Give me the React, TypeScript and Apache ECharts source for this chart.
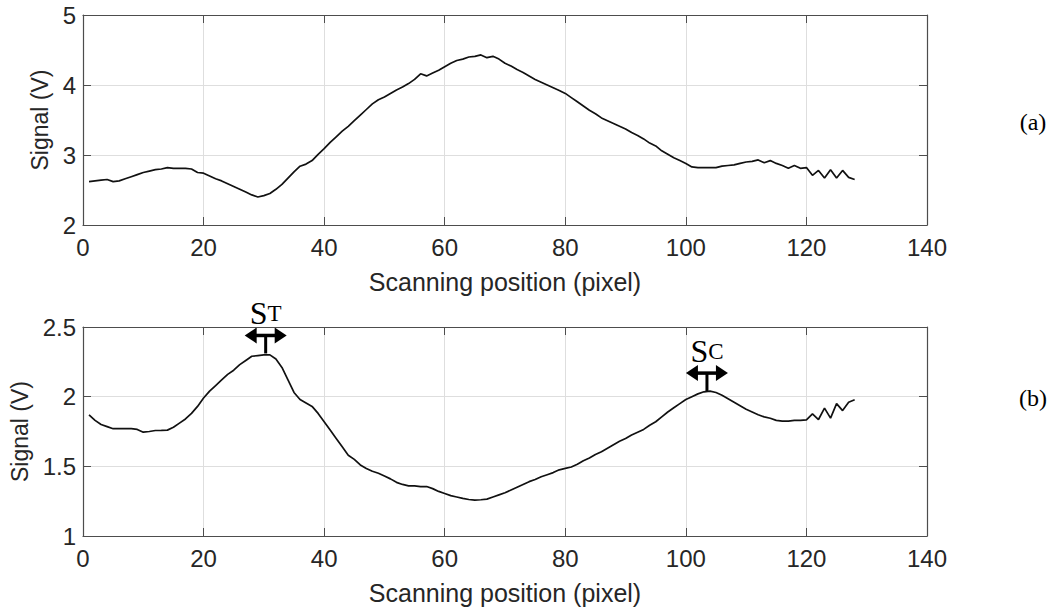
import React, { useEffect, useRef } from "react";
import * as echarts from "echarts";

// Scanning positions (pixel) 1..128
const scanPositions: number[] = Array.from({ length: 128 }, (_, i) => i + 1);

// (a) Signal (V)
const signalA: number[] = [
  2.62, 2.63, 2.64, 2.65, 2.62, 2.63, 2.66, 2.69, 2.72, 2.75,
  2.77, 2.79, 2.80, 2.82, 2.81, 2.81, 2.81, 2.80, 2.75, 2.74,
  2.70, 2.66, 2.63, 2.59, 2.55, 2.51, 2.47, 2.43, 2.40, 2.42,
  2.45, 2.51, 2.58, 2.67, 2.76, 2.84, 2.87, 2.92, 3.01, 3.09,
  3.18, 3.26, 3.34, 3.41, 3.49, 3.57, 3.65, 3.73, 3.79, 3.83,
  3.88, 3.93, 3.97, 4.02, 4.08, 4.16, 4.13, 4.17, 4.21, 4.26,
  4.31, 4.35, 4.37, 4.40, 4.41, 4.43, 4.39, 4.41, 4.37, 4.31,
  4.27, 4.22, 4.18, 4.13, 4.08, 4.04, 4.00, 3.96, 3.92, 3.88,
  3.82, 3.76, 3.70, 3.64, 3.59, 3.53, 3.49, 3.45, 3.41, 3.37,
  3.32, 3.28, 3.23, 3.17, 3.13, 3.06, 3.01, 2.96, 2.92, 2.88,
  2.83, 2.82, 2.82, 2.82, 2.82, 2.84, 2.85, 2.86, 2.88, 2.90,
  2.91, 2.93, 2.89, 2.92, 2.88, 2.85, 2.81, 2.85, 2.81, 2.82,
  2.71, 2.78, 2.67, 2.79, 2.67, 2.78, 2.68, 2.65,
];

// (b) Signal (V)
const signalB: number[] = [
  1.87, 1.83, 1.80, 1.785, 1.77, 1.77, 1.77, 1.77, 1.765, 1.745,
  1.75, 1.757, 1.758, 1.76, 1.78, 1.81, 1.84, 1.88, 1.93, 1.99,
  2.04, 2.08, 2.12, 2.16, 2.19, 2.23, 2.26, 2.29, 2.295, 2.30,
  2.30, 2.27, 2.21, 2.12, 2.03, 1.98, 1.955, 1.93, 1.88, 1.82,
  1.76, 1.70, 1.64, 1.58, 1.55, 1.51, 1.485, 1.465, 1.45, 1.43,
  1.41, 1.385, 1.37, 1.36, 1.36, 1.355, 1.355, 1.34, 1.32, 1.305,
  1.29, 1.28, 1.27, 1.262, 1.257, 1.26, 1.265, 1.28, 1.295, 1.31,
  1.33, 1.35, 1.37, 1.39, 1.405, 1.425, 1.44, 1.455, 1.475, 1.485,
  1.495, 1.515, 1.54, 1.56, 1.585, 1.605, 1.63, 1.655, 1.68, 1.70,
  1.725, 1.745, 1.765, 1.795, 1.82, 1.855, 1.89, 1.92, 1.95, 1.98,
  2.00, 2.02, 2.035, 2.04, 2.03, 2.01, 1.985, 1.96, 1.935, 1.91,
  1.89, 1.87, 1.855, 1.845, 1.83, 1.825, 1.825, 1.83, 1.83, 1.834,
  1.877, 1.836, 1.918, 1.846, 1.95, 1.90, 1.96, 1.978,
];

const xTicks = { min: 0, max: 140, interval: 20 };
const yTicksA = { min: 2, max: 5, interval: 1 };
const yTicksB = { min: 1, max: 2.5, interval: 0.5 };

// Peak annotations on (b): main letter + small-cap subscript
const peakMarks = [
  { main: "S", sub: "T", x: 30.3, y: 2.31 },
  { main: "S", sub: "C", x: 103.5, y: 2.04 },
];

const panelLabels = ["(a)", "(b)"];
const xTitle = "Scanning position (pixel)";
const yTitle = "Signal (V)";

const SANS = "'Liberation Sans', Arial, Helvetica, sans-serif";
const SERIF = "'Liberation Serif', 'Times New Roman', serif";
const AXIS_COLOR = "#4d4d4d";
const TEXT_COLOR = "#262626";
const GRID_COLOR = "#dedede";

export default function App() {
  const ref = useRef<HTMLDivElement>(null);

  useEffect(() => {
    if (!ref.current) return;
    const chart = echarts.init(ref.current, undefined, { renderer: "svg" });

    const grids = [
      { left: 83, top: 15, width: 844, height: 210 },
      { left: 83, top: 327, width: 844, height: 209 },
    ];

    const tick = {
      show: true,
      inside: true,
      length: 8,
      lineStyle: { color: AXIS_COLOR, width: 1 },
    };
    const line = { show: true, onZero: false, lineStyle: { color: AXIS_COLOR, width: 1.2 } };

    const xAxes: any[] = [];
    const yAxes: any[] = [];
    [0, 1].forEach((g) => {
      xAxes.push({
        type: "value",
        gridIndex: g,
        ...xTicks,
        position: "bottom",
        axisLine: line,
        axisTick: tick,
        splitLine: { show: true, lineStyle: { color: GRID_COLOR, width: 1 } },
        axisLabel: {
          show: true,
          fontSize: 24,
          fontFamily: SANS,
          color: TEXT_COLOR,
          margin: 10,
        },
        name: xTitle,
        nameLocation: "middle",
        nameGap: 44,
        nameTextStyle: { fontSize: 25, fontFamily: SANS, color: TEXT_COLOR },
      });
      xAxes.push({
        type: "value",
        gridIndex: g,
        ...xTicks,
        position: "top",
        axisLine: line,
        axisTick: tick,
        splitLine: { show: false },
        axisLabel: { show: false },
      });
      const yt = g === 0 ? yTicksA : yTicksB;
      yAxes.push({
        type: "value",
        gridIndex: g,
        ...yt,
        position: "left",
        axisLine: line,
        axisTick: tick,
        splitLine: { show: true, lineStyle: { color: GRID_COLOR, width: 1 } },
        axisLabel: {
          show: true,
          fontSize: 24,
          fontFamily: SANS,
          color: TEXT_COLOR,
          margin: 7,
        },
        name: yTitle,
        nameLocation: "middle",
        nameGap: g === 0 ? 29 : 49,
        nameTextStyle: { fontSize: 23, fontFamily: SANS, color: TEXT_COLOR },
      });
      yAxes.push({
        type: "value",
        gridIndex: g,
        ...yt,
        position: "right",
        axisLine: line,
        axisTick: tick,
        splitLine: { show: false },
        axisLabel: { show: false },
      });
    });

    const toPairs = (vals: number[]) => vals.map((v, i) => [scanPositions[i], v]);

    chart.setOption({
      animation: false,
      backgroundColor: "#ffffff",
      grid: grids,
      xAxis: xAxes,
      yAxis: yAxes,
      series: [
        {
          type: "line",
          xAxisIndex: 0,
          yAxisIndex: 0,
          data: toPairs(signalA),
          showSymbol: false,
          lineStyle: { color: "#111111", width: 1.7 },
        },
        {
          type: "line",
          xAxisIndex: 2,
          yAxisIndex: 2,
          data: toPairs(signalB),
          showSymbol: false,
          lineStyle: { color: "#111111", width: 1.7 },
        },
      ],
    });

    // Build annotations from data positions
    const elements: any[] = [];
    peakMarks.forEach((m) => {
      const p = chart.convertToPixel({ seriesIndex: 1 }, [m.x, m.y]) as number[];
      if (!p) return;
      const [px, py] = p;
      const ay = py - 18;
      const half = 21;
      const head = 12;
      const hh = 8;
      elements.push({
        type: "line",
        shape: { x1: px, y1: py, x2: px, y2: ay },
        style: { stroke: "#000", lineWidth: 3 },
      });
      elements.push({
        type: "line",
        shape: { x1: px - half + head - 1, y1: ay, x2: px + half - head + 1, y2: ay },
        style: { stroke: "#000", lineWidth: 3.5 },
      });
      elements.push({
        type: "polygon",
        shape: {
          points: [
            [px - half, ay],
            [px - half + head, ay - hh],
            [px - half + head, ay + hh],
          ],
        },
        style: { fill: "#000" },
      });
      elements.push({
        type: "polygon",
        shape: {
          points: [
            [px + half, ay],
            [px + half - head, ay - hh],
            [px + half - head, ay + hh],
          ],
        },
        style: { fill: "#000" },
      });
      elements.push({
        type: "text",
        x: px,
        y: ay - 6,
        style: {
          text: `{s|${m.main}}{t|${m.sub}}`,
          align: "center",
          verticalAlign: "bottom",
          rich: {
            s: { fontSize: 32, fontFamily: SERIF, fill: "#000" },
            t: { fontSize: 23, fontFamily: SERIF, fill: "#000" },
          },
        },
      });
    });

    panelLabels.forEach((lbl, g) => {
      const gr = grids[g];
      elements.push({
        type: "text",
        x: 1033,
        y: gr.top + gr.height / 2 + (g === 0 ? 2 : -34),
        style: {
          text: lbl,
          align: "center",
          verticalAlign: "middle",
          fontSize: 24,
          fontFamily: SERIF,
          fill: "#000",
        },
      });
    });

    chart.setOption({ graphic: { elements } });

    return () => chart.dispose();
  }, []);

  return (
    <div
      ref={ref}
      style={{ position: "fixed", left: 0, top: 0, width: 1058, height: 610, background: "#fff" }}
    />
  );
}
